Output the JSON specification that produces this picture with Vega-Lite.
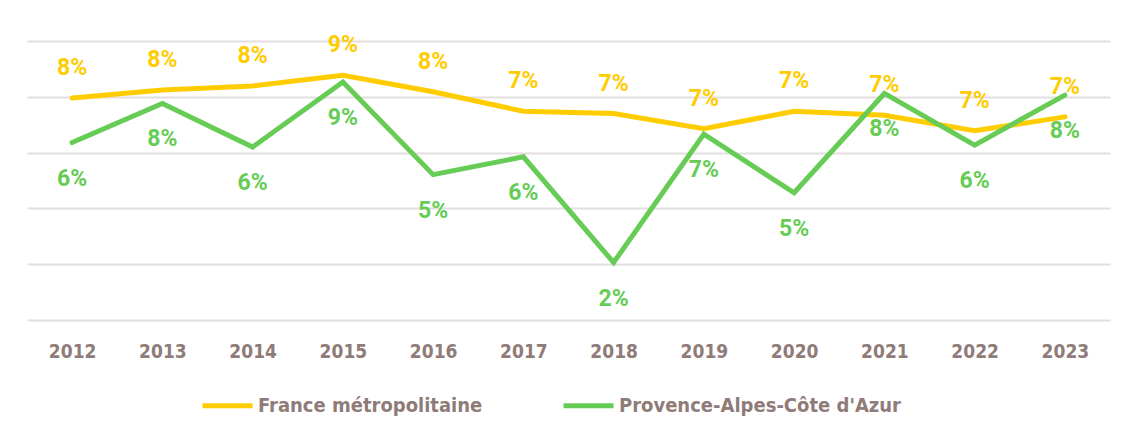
{
  "$schema": "https://vega.github.io/schema/vega-lite/v6.json",
  "width": 1083,
  "height": 279,
  "autosize": {"type": "none"},
  "padding": {"left": 27, "top": 41, "right": 12, "bottom": 117},
  "background": "white",
  "config": {"view": {"stroke": null}},
  "data": {"values": [
    {"year": "2012", "serie": "France métropolitaine", "v": 0.0796},
    {"year": "2013", "serie": "France métropolitaine", "v": 0.0824},
    {"year": "2014", "serie": "France métropolitaine", "v": 0.0839},
    {"year": "2015", "serie": "France métropolitaine", "v": 0.0877},
    {"year": "2016", "serie": "France métropolitaine", "v": 0.0818},
    {"year": "2017", "serie": "France métropolitaine", "v": 0.0748},
    {"year": "2018", "serie": "France métropolitaine", "v": 0.0740},
    {"year": "2019", "serie": "France métropolitaine", "v": 0.0686},
    {"year": "2020", "serie": "France métropolitaine", "v": 0.0748},
    {"year": "2021", "serie": "France métropolitaine", "v": 0.0734},
    {"year": "2022", "serie": "France métropolitaine", "v": 0.0678},
    {"year": "2023", "serie": "France métropolitaine", "v": 0.0728},
    {"year": "2012", "serie": "Provence-Alpes-Côte d'Azur", "v": 0.0636},
    {"year": "2013", "serie": "Provence-Alpes-Côte d'Azur", "v": 0.0776},
    {"year": "2014", "serie": "Provence-Alpes-Côte d'Azur", "v": 0.0620},
    {"year": "2015", "serie": "Provence-Alpes-Côte d'Azur", "v": 0.0853},
    {"year": "2016", "serie": "Provence-Alpes-Côte d'Azur", "v": 0.0521},
    {"year": "2017", "serie": "Provence-Alpes-Côte d'Azur", "v": 0.0585},
    {"year": "2018", "serie": "Provence-Alpes-Côte d'Azur", "v": 0.0206},
    {"year": "2019", "serie": "Provence-Alpes-Côte d'Azur", "v": 0.0666},
    {"year": "2020", "serie": "Provence-Alpes-Côte d'Azur", "v": 0.0456},
    {"year": "2021", "serie": "Provence-Alpes-Côte d'Azur", "v": 0.0812},
    {"year": "2022", "serie": "Provence-Alpes-Côte d'Azur", "v": 0.0627},
    {"year": "2023", "serie": "Provence-Alpes-Côte d'Azur", "v": 0.0806}
  ]},
  "encoding": {
    "x": {
      "field": "year", "type": "ordinal",
      "scale": {"type": "point", "padding": 0.5},
      "axis": {
        "title": null, "labelAngle": 0, "domain": false, "ticks": false,
        "labelFont": "DejaVu Sans Condensed, sans-serif",
        "labelFontWeight": "bold", "labelFontSize": 19, "labelColor": "#8f7b78",
        "labelPadding": 22
      }
    },
    "y": {
      "field": "v", "type": "quantitative",
      "scale": {"domain": [0, 0.1], "nice": false},
      "axis": {
        "title": null, "labels": false, "ticks": false, "domain": false,
        "values": [0, 0.02, 0.04, 0.06, 0.08, 0.1],
        "grid": true, "gridColor": "#e3dedf", "gridWidth": 2
      }
    },
    "color": {
      "field": "serie", "type": "nominal",
      "scale": {"domain": ["France métropolitaine", "Provence-Alpes-Côte d'Azur"], "range": ["#ffcc00", "#66cc55"]}
    }
  },
  "layer": [
    {
      "mark": {"type": "line", "strokeWidth": 5, "strokeCap": "round"},
      "encoding": {
        "color": {
          "field": "serie", "type": "nominal",
          "scale": {"domain": ["France métropolitaine", "Provence-Alpes-Côte d'Azur"], "range": ["#ffcc00", "#66cc55"]},
          "legend": {
            "title": null, "orient": "none", "direction": "horizontal",
            "legendX": 173, "legendY": 337,
            "symbolType": "stroke", "symbolSize": 2500, "symbolStrokeWidth": 5,
            "labelFont": "DejaVu Sans Condensed, sans-serif",
            "labelFontWeight": "bold", "labelFontSize": 20, "labelColor": "#8f7b78",
            "labelOffset": 3, "columnPadding": 70, "labelLimit": 400
          }
        }
      }
    },
    {
      "transform": [{"filter": "datum.serie === 'France métropolitaine'"}],
      "mark": {"type": "text", "dy": -30, "font": "Roboto", "fontWeight": "bold", "fontSize": 23, "baseline": "middle"},
      "encoding": {"text": {"field": "v", "type": "quantitative", "format": ".0%"}}
    },
    {
      "transform": [{"filter": "datum.serie !== 'France métropolitaine'"}],
      "mark": {"type": "text", "dy": 36, "font": "Roboto", "fontWeight": "bold", "fontSize": 23, "baseline": "middle"},
      "encoding": {"text": {"field": "v", "type": "quantitative", "format": ".0%"}}
    }
  ]
}
